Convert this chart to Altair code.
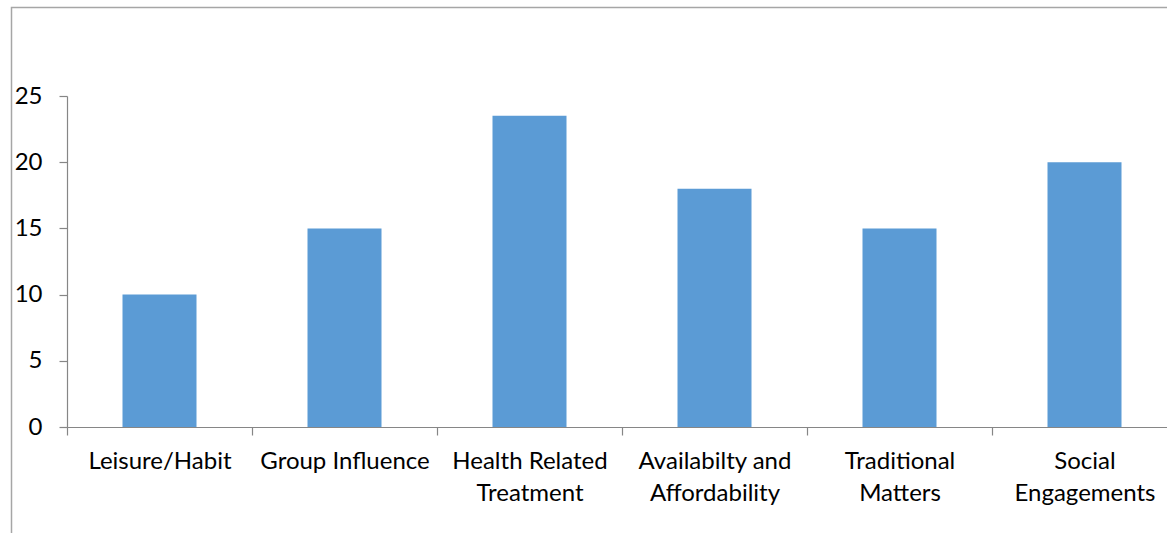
import altair as alt
import pandas as pd

# Reasons cited, with the count for each
categories = [
    "Leisure/Habit",
    "Group Influence",
    "Health Related\nTreatment",
    "Availabilty and\nAffordability",
    "Traditional\nMatters",
    "Social\nEngagements",
]
values = [10, 15, 23.5, 18, 15, 20]
y_ticks = [0, 5, 10, 15, 20, 25]

df = pd.DataFrame({"category": categories, "value": values})

FONT = "Lato"
AXIS_GREY = "#868686"
BAR_BLUE = "#5B9BD5"
STEP = 185  # width of one category slot, px

bars = alt.Chart(df).mark_bar(color=BAR_BLUE).encode(
    x=alt.X(
        "category:N",
        sort=categories,
        scale=alt.Scale(range=[0, STEP * len(categories)], paddingInner=0.6, paddingOuter=0.3),
        axis=alt.Axis(
            title=None,
            labelAngle=0,
            labelExpr="split(datum.label, '\\n')",
            labelFont=FONT,
            labelFontSize=24,
            labelLineHeight=32,
            labelColor="#000000",
            labelPadding=14,
            labelLimit=400,
            # ticks sit on the boundaries between categories, labels stay centred
            tickOffset=-STEP / 2,
            labelOffset=STEP / 2,
            tickSize=8,
            tickColor=AXIS_GREY,
            domainColor=AXIS_GREY,
            domainWidth=1.2,
            tickWidth=1.2,
            grid=False,
        ),
    ),
    y=alt.Y(
        "value:Q",
        scale=alt.Scale(domain=[0, 25], nice=False),
        axis=alt.Axis(
            title=None,
            values=y_ticks,
            labelFont=FONT,
            labelFontSize=24,
            labelColor="#000000",
            labelPadding=17,
            tickSize=8,
            tickColor=AXIS_GREY,
            domainColor=AXIS_GREY,
            domainWidth=1.2,
            tickWidth=1.2,
            grid=False,
        ),
    ),
)

# Thin outer frame around the chart area
frame = alt.Chart(pd.DataFrame({"k": [0]})).mark_rect(
    fill=None, stroke="#A6A6A6", strokeWidth=1.5
).encode(
    x=alt.value(-55.5),
    x2=alt.value(1250),
    y=alt.value(-88.5),
    y2=alt.value(700),
)

chart = alt.layer(frame, bars).properties(
    width=1100,
    height=331,
    autosize=alt.AutoSizeParams(type="none"),
    padding={"left": 67, "top": 96, "right": 0, "bottom": 106},
    background="white",
).configure_view(stroke=None)

chart.save("out.html", embed_options={"renderer": "svg", "actions": False})
